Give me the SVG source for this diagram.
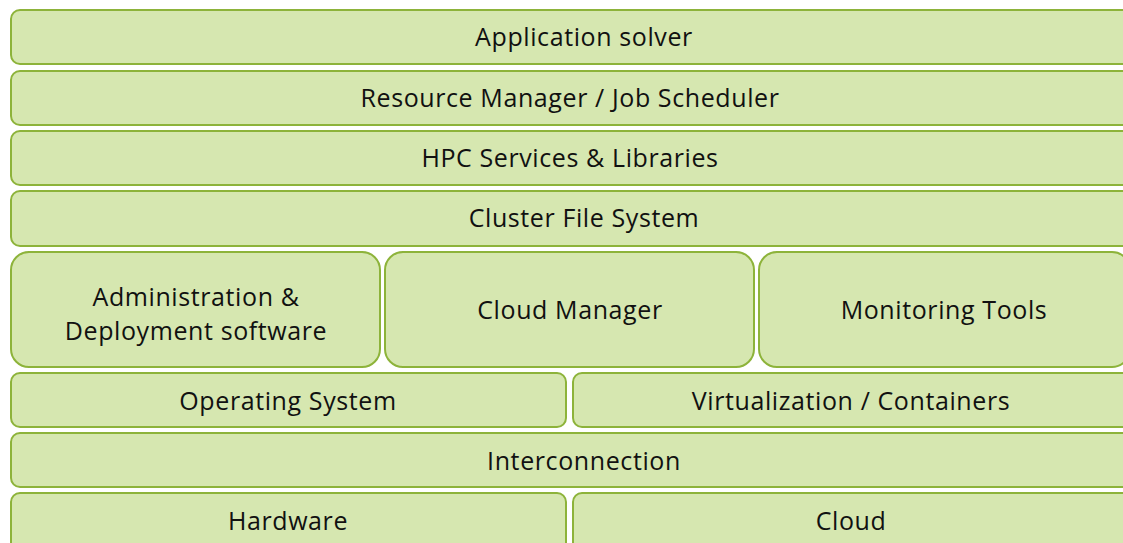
<svg xmlns="http://www.w3.org/2000/svg" width="1123" height="543" viewBox="0 0 1123 543">
<style>
.b{fill:#d6e7b0;stroke:#8db33a;stroke-width:2}
.t{font-family:"Open Sans","Liberation Sans",Arial,sans-serif;font-size:25px;letter-spacing:0.6px;fill:#111;text-anchor:middle}
</style>
<rect width="1123" height="543" fill="#fff"/>
<g id="app"><rect class="b" x="11" y="10" width="1120" height="54" rx="9"/><text class="t" x="584" y="46">Application solver</text></g>
<g id="rm"><rect class="b" x="11" y="71" width="1120" height="54" rx="9"/><text class="t" x="570" y="107">Resource Manager / Job Scheduler</text></g>
<g id="hpc"><rect class="b" x="11" y="131" width="1120" height="54" rx="9"/><text class="t" x="570" y="167">HPC Services &amp; Libraries</text></g>
<g id="cfs"><rect class="b" x="11" y="191" width="1120" height="55" rx="9"/><text class="t" x="584" y="227">Cluster File System</text></g>
<g id="admin"><rect class="b" x="11" y="252" width="369" height="115" rx="18"/><text class="t" x="196" y="306">Administration &amp;</text><text class="t" x="196" y="340">Deployment software</text></g>
<g id="cm"><rect class="b" x="385" y="252" width="369" height="115" rx="18"/><text class="t" x="570" y="319">Cloud Manager</text></g>
<g id="mon"><rect class="b" x="759" y="252" width="371" height="115" rx="18"/><text class="t" x="944" y="319">Monitoring Tools</text></g>
<g id="os"><rect class="b" x="11" y="373" width="555" height="54" rx="9"/><text class="t" x="288" y="410">Operating System</text></g>
<g id="virt"><rect class="b" x="573" y="373" width="558" height="54" rx="9"/><text class="t" x="851" y="410">Virtualization / Containers</text></g>
<g id="ic"><rect class="b" x="11" y="433" width="1120" height="54" rx="9"/><text class="t" x="584" y="470">Interconnection</text></g>
<g id="hw"><rect class="b" x="11" y="493" width="555" height="60" rx="9"/><text class="t" x="288" y="530">Hardware</text></g>
<g id="cloud"><rect class="b" x="573" y="493" width="558" height="60" rx="9"/><text class="t" x="851" y="530">Cloud</text></g>
<g id="connectors"/>
</svg>
